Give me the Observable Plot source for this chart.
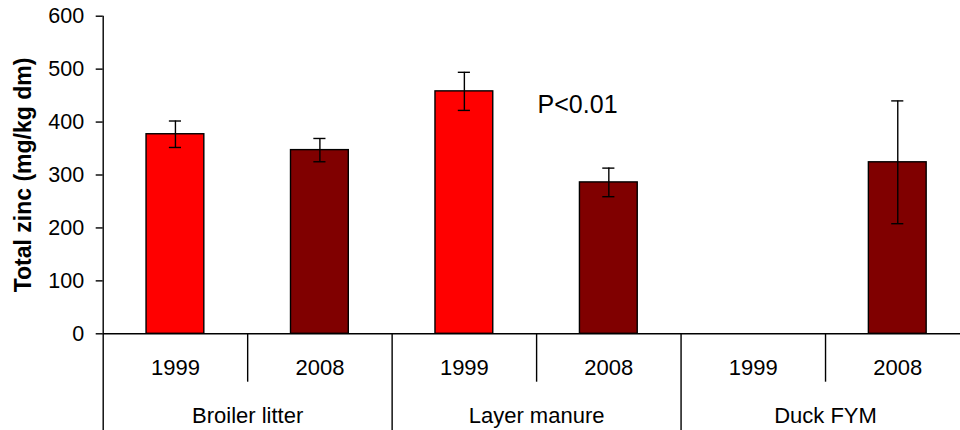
<!DOCTYPE html>
<html><head><meta charset="utf-8">
<script src="https://cdn.jsdelivr.net/npm/d3@7"></script>
<script src="https://cdn.jsdelivr.net/npm/@observablehq/plot@0.6"></script>
<style>body{margin:0;background:#fff;}</style>
</head><body><div id="chart"></div>
<script>
const groups = ["Broiler litter", "Layer manure", "Duck FYM"];
const years = ["1999", "2008"];
const yearColors = ["#ff0000", "#800000"];
const means = [377, 347, 458, 286, null, 324];
const errors = [25, 22, 36, 27, null, 116];
const yTicks = [0, 100, 200, 300, 400, 500, 600];
const yLabel = "Total zinc (mg/kg dm)";
const noteText = "P<0.01";
const noteSlot = 3;
const noteValue = 432;

const rows = groups.flatMap((g, gi) => years.map((yr, yi) => ({
  group: g, year: yr, slot: gi * 2 + yi,
  mean: means[gi * 2 + yi], err: errors[gi * 2 + yi], color: yearColors[yi]
})));
const bars = rows.filter(d => d.mean != null);
const bounds = d3.range(0, rows.length);

const chart = Plot.plot({
  width: 960, height: 430,
  marginLeft: 102.7, marginRight: 0, marginTop: 15.7, marginBottom: 96.7,
  style: {fontFamily: "'Liberation Sans', Arial, sans-serif", fontSize: "22px", color: "black", background: "white"},
  x: {domain: [0, rows.length], range: [102.7, 969.5], axis: null},
  y: {domain: [0, 600]},
  color: {type: "identity"},
  marks: [
    Plot.rectY(bars, {x1: d => d.slot + 0.3, x2: d => d.slot + 0.7, y1: 0, y2: "mean", fill: "color", stroke: "black", strokeWidth: 1.4}),
    Plot.ruleX(bars, {x: d => d.slot + 0.5, y1: d => d.mean - d.err, y2: d => d.mean + d.err, stroke: "black", strokeWidth: 1.4}),
    Plot.ruleY(bars, {x1: d => d.slot + 0.458, x2: d => d.slot + 0.542, y: d => d.mean + d.err, stroke: "black", strokeWidth: 1.4}),
    Plot.ruleY(bars, {x1: d => d.slot + 0.458, x2: d => d.slot + 0.542, y: d => d.mean - d.err, stroke: "black", strokeWidth: 1.4}),
    Plot.ruleY([0], {stroke: "black", strokeWidth: 1.4}),
    Plot.ruleX([0], {stroke: "black", strokeWidth: 1.4}),
    Plot.ruleX(bounds.filter(i => i % 2 === 1), {x: d => d, y1: 0, y2: 0, insetBottom: -48.4, stroke: "black", strokeWidth: 1.4}),
    Plot.ruleX(bounds.filter(i => i % 2 === 0), {x: d => d, y1: 0, y2: 0, insetBottom: -100, stroke: "black", strokeWidth: 1.4}),
    Plot.axisY({ticks: yTicks, tickSize: 7, tickPadding: 12, fontSize: 21.5, label: null, strokeWidth: 1.4}),
    Plot.text(rows, {x: d => d.slot + 0.5, y: 0, text: "year", dy: 33.7, fontSize: 22}),
    Plot.text(groups, {x: (d, i) => i * 2 + 1, y: 0, text: d => d, dy: 82, fontSize: 22}),
    Plot.text([noteText], {x: noteSlot, y: noteValue, text: d => d, textAnchor: "start", dx: 1, fontSize: 25}),
    Plot.text([yLabel], {frameAnchor: "left", textAnchor: "middle", rotate: -90, dx: -79.7, text: d => d, fontWeight: "bold", fontSize: 23})
  ]
});
document.getElementById("chart").append(chart);
</script>
</body></html>
